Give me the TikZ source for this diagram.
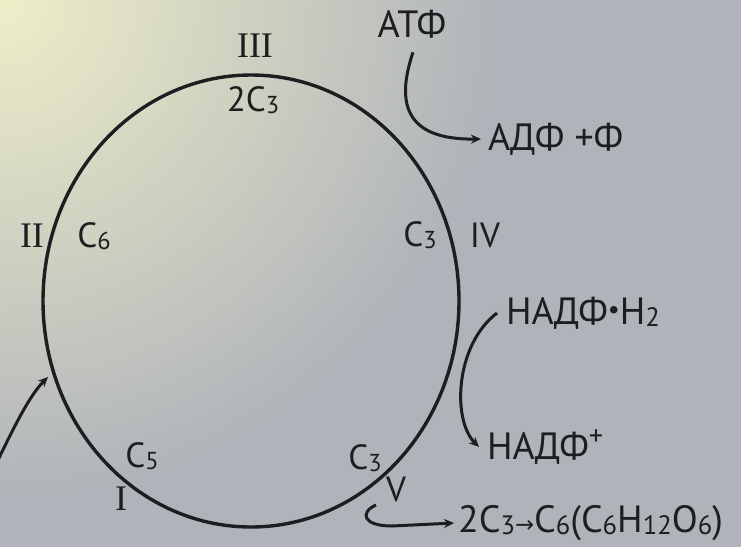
\documentclass[tikz,border=0pt]{standalone}
\usepackage{fontspec}
\usepackage{graphicx}
\setmainfont{PT Sans}
\newfontfamily\serifnum{Liberation Serif}
\newfontfamily\arrowfont{DejaVu Sans}
\usetikzlibrary{arrows.meta}
\newcommand\sbs[1]{\raisebox{-0.12ex}{\scalebox{0.7}{#1}}}
\definecolor{bggray}{RGB}{176,180,186}
\definecolor{bgglow}{RGB}{238,238,200}
\definecolor{ink}{RGB}{28,30,32}
\tikzset{
  txt/.style={inner sep=0pt, text=ink, font=\fontsize{38}{40}\selectfont},
  lbl/.style={inner sep=0pt, text=ink, font=\fontsize{35}{37}\selectfont},
  rom/.style={inner sep=0pt, text=ink, font=\serifnum\fontsize{36}{38}\selectfont},
  arr/.style={draw=ink, line width=3pt, -{Stealth[length=10pt,width=9pt]}},
  cyc/.style={draw=ink, line width=3.4pt}
}
\begin{document}
\begin{tikzpicture}[x=1pt,y=-1pt]
\useasboundingbox (0,0) rectangle (741,547);
\fill[bggray] (0,0) rectangle (741,547);
\begin{scope}
\clip (0,0) rectangle (741,547);
\shade[inner color=bgglow, outer color=bggray] (0,0) circle (500);
\end{scope}
% cycle
\draw[cyc] (251,301) ellipse [x radius=208, y radius=226];
% labels on cycle
\node[rom] (r3) at (255,46) {III};
\node[lbl] (c23) at (253,100) {2C\sbs{3}};
\node[rom] (r2) at (32,236) {II};
\node[lbl] (c6) at (94,236) {C\sbs{6}};
\node[lbl] (c3a) at (420,235) {C\sbs{3}};
\node[lbl] (r4) at (485,235) {IV};
\node[lbl] (c5) at (142,456) {C\sbs{5}};
\node[rom] (r1) at (121,499) {I};
\node[lbl] (c3b) at (365,458) {C\sbs{3}};
\node[lbl] (r5) at (396,489) {V};
% ATP
\node[txt] (atp) at (412,24) {АТФ};
\node[txt, anchor=west] (adp) at (488,139) {АДФ +Ф};
\draw[arr] ([xshift=1pt,yshift=-14pt]atp.south) .. controls (397,100) and (402,140) .. ([xshift=-7pt]adp.west);
% NADPH
\node[txt, anchor=west] (nadph) at (506,313) {НАДФ\raisebox{0.3ex}{\scalebox{0.7}{•}}Н\sbs{2}};
\node[txt, anchor=west] (nadp) at (487,447) {НАДФ\raisebox{0.7ex}{\scalebox{0.75}{+}}};
\coordinate (nstart) at (497,313);
\draw[arr] (nstart) .. controls (455,345) and (452,420) .. ([xshift=-8pt]nadp.west);
% product
\node[txt, anchor=west] (glu) at (458,523) {2C\sbs{3}{\arrowfont\scalebox{0.6}{→}}C\sbs{6}(C\sbs{6}H\sbs{12}O\sbs{6})};
\coordinate (vstart) at (376,505);
\draw[arr] (vstart) .. controls (360,512) and (362,526) .. (392,526) -- ([xshift=-4pt]glu.west);
% entry arrow
\coordinate (entry) at (-2,460);
\coordinate (entryend) at (48,377);
\draw[arr] (entry) .. controls (15,425) and (30,395) .. (entryend);
\end{tikzpicture}
\end{document}
